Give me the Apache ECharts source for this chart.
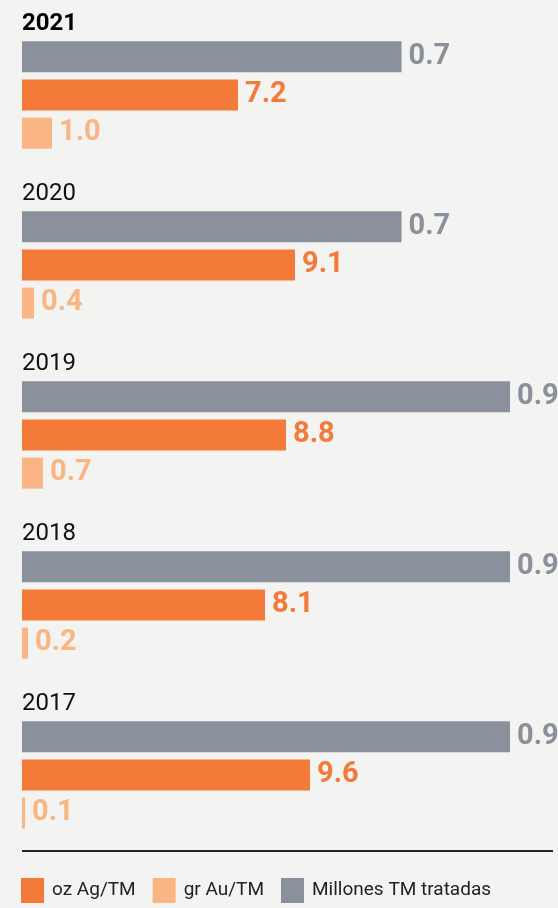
<!DOCTYPE html>
<html>
<head>
<meta charset="utf-8">
<script src="https://cdn.jsdelivr.net/npm/echarts@6/dist/echarts.min.js"></script>
<style>
  html, body { margin: 0; padding: 0; background: #f3f3f1; }
  #chart { width: 558px; height: 908px; }
</style>
</head>
<body>
<div id="chart"></div>
<script>
  // datos por año
  const years = ["2021", "2020", "2019", "2018", "2017"];
  const tmTratadas = [0.7, 0.7, 0.9, 0.9, 0.9];   // Millones TM tratadas
  const ozAg = [7.2, 9.1, 8.8, 8.1, 9.6];          // oz Ag/TM
  const grAu = [1.0, 0.4, 0.7, 0.2, 0.1];          // gr Au/TM

  const GRAY = "#8b919c";
  const ORANGE = "#f47a3a";
  const LIGHT = "#fab585";
  const FONT = "Roboto, 'Liberation Sans', sans-serif";

  let chart = echarts.init(document.getElementById("chart"));

  function barLabel(color) {
    return {
      show: true,
      position: "right",
      distance: 7,
      color: color,
      fontFamily: FONT,
      fontWeight: "bold",
      fontSize: 29,
      formatter: p => p.value.toFixed(1)
    };
  }

  let option = {
    backgroundColor: "#f3f3f1",
    animation: false,
    grid: { left: 22, top: 10, width: 488, height: 850 },
    xAxis: [
      { type: "value", min: 0, max: 488 / 30, show: false },
      { type: "value", min: 0, max: 0.9, show: false }
    ],
    yAxis: {
      type: "category",
      data: years,
      inverse: true,
      axisLine: { show: false },
      axisTick: { show: false },
      splitLine: { show: false },
      axisLabel: {
        inside: true,
        margin: 0,
        align: "left",
        verticalAlign: "bottom",
        padding: [0, 0, 59, 0],
        fontFamily: FONT,
        fontSize: 24,
        color: "#111",
        formatter: v => v === "2021" ? "{b|" + v + "}" : v,
        rich: {
          b: { fontFamily: FONT, fontSize: 24, fontWeight: "bold", color: "#000" }
        }
      }
    },
    legend: {
      left: 21,
      top: 878,
      padding: 0,
      icon: "rect",
      itemWidth: 23,
      itemHeight: 25,
      itemGap: 17,
      textStyle: { fontFamily: FONT, fontSize: 19, color: "#222", padding: [0, 0, 0, 3] },
      data: ["oz Ag/TM", "gr Au/TM", "Millones TM tratadas"]
    },
    graphic: [{
      type: "line",
      shape: { x1: 22, y1: 851, x2: 553, y2: 851 },
      style: { stroke: "#222", lineWidth: 2 }
    }],
    series: [
      {
        name: "Millones TM tratadas",
        type: "bar",
        xAxisIndex: 1,
        barWidth: 31,
        barGap: "23%",
        itemStyle: { color: GRAY },
        label: barLabel(GRAY),
        data: tmTratadas
      },
      {
        name: "oz Ag/TM",
        type: "bar",
        xAxisIndex: 0,
        barWidth: 31,
        barGap: "23%",
        itemStyle: { color: ORANGE },
        label: barLabel(ORANGE),
        data: ozAg
      },
      {
        name: "gr Au/TM",
        type: "bar",
        xAxisIndex: 0,
        barWidth: 31,
        barGap: "23%",
        itemStyle: { color: LIGHT },
        label: barLabel(LIGHT),
        data: grAu
      }
    ]
  };
  chart.setOption(option, true);
</script>
</body>
</html>
